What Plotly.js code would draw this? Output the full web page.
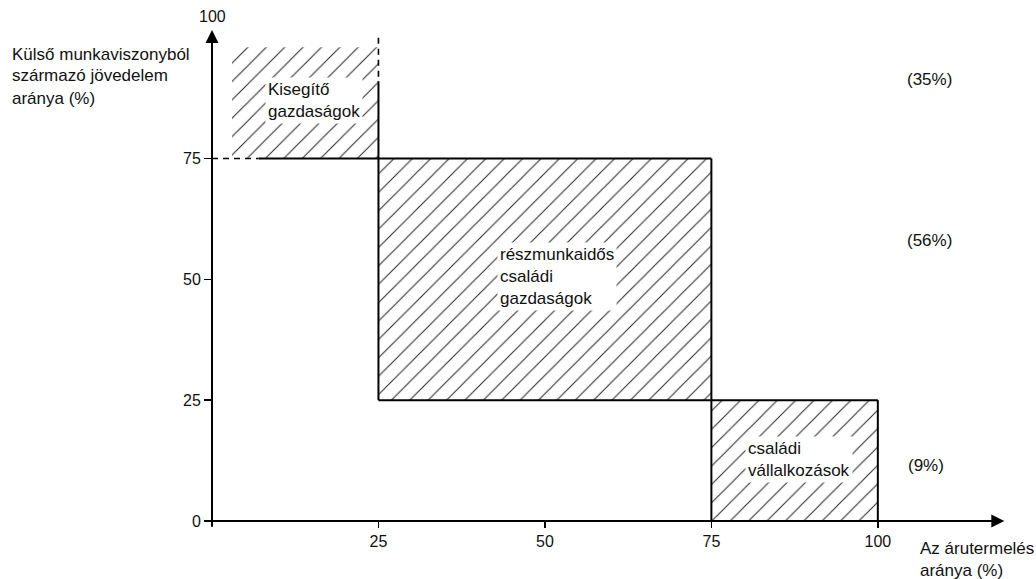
<!DOCTYPE html>
<html>
<head>
<meta charset="utf-8">
<script src="https://cdn.plot.ly/plotly-3.0.1.min.js"></script>
<style>html,body{margin:0;padding:0;background:#fff;}#chart{width:1036px;height:579px;}</style>
</head>
<body>
<div id="chart"></div>
<script>
// ---- data ----
const groups = ["Kisegítő gazdaságok", "részmunkaidős családi gazdaságok", "családi vállalkozások"];
const labelLines = [["Kisegítő", "gazdaságok"], ["részmunkaidős", "családi", "gazdaságok"], ["családi", "vállalkozások"]];
const shares = ["(35%)", "(56%)", "(9%)"];
const xStart = [3, 25, 75];      // árutermelés aránya, left edge of hatched area
const xEnd = [25, 75, 100];      // right edge
const yLow = [75, 25, 0];        // külső jövedelem aránya, lower edge
const yHigh = [98, 75, 25];      // upper edge of hatched area
const dashEndX = 7;              // dashed part of the 75 % line ends here
const dashEndY = 91;             // dashed part of the 25 % vertical ends here
const xTicks = [25, 50, 75, 100];
const yTicks = [0, 25, 50, 75];
const yTop = 100;
const yTitleLines = ["Külső munkaviszonyból", "származó jövedelem", "aránya (%)"];
const xTitleLines = ["Az árutermelés", "aránya (%)"];

const font = "Liberation Sans, Arial, Helvetica, sans-serif";
const ink = "#111";

// hatched areas
const hatch = {
  type: "bar",
  x: xStart.map((s, i) => (s + xEnd[i]) / 2),
  width: xStart.map((s, i) => xEnd[i] - s),
  base: yLow,
  y: yHigh.map((h, i) => h - yLow[i]),
  text: groups,
  hoverinfo: "text",
  textposition: "none",
  marker: {
    color: "white",
    line: {width: 0},
    pattern: {shape: "/", fgcolor: "#222", bgcolor: "white", size: 13, solidity: 0.075}
  },
  showlegend: false
};

// solid borders
const bx = [], by = [];
function seg(x0, y0, x1, y1) { bx.push(x0, x1, null); by.push(y0, y1, null); }
seg(dashEndX, yLow[0], xEnd[0], yLow[0]);
seg(xEnd[0], dashEndY, xEnd[0], yLow[0]);
seg(xStart[1], yHigh[1], xEnd[1], yHigh[1]);
seg(xEnd[1], yHigh[1], xEnd[1], yLow[1]);
seg(xEnd[1], yLow[1], xStart[1], yLow[1]);
seg(xStart[1], yLow[1], xStart[1], yHigh[1]);
seg(xStart[2], yHigh[2], xEnd[2], yHigh[2]);
seg(xEnd[2], yHigh[2], xEnd[2], yLow[2]);
seg(xStart[2], yHigh[2], xStart[2], yLow[2]);

const borders = {
  type: "scatter", mode: "lines", x: bx, y: by,
  line: {color: "#000", width: 2}, hoverinfo: "skip", showlegend: false, connectgaps: false
};

const dashes = {
  type: "scatter", mode: "lines",
  x: [0, dashEndX, null, xEnd[0], xEnd[0]],
  y: [yLow[0], yLow[0], null, yTop, dashEndY],
  line: {color: "#000", width: 1.6, dash: "6px,5px"}, hoverinfo: "skip", showlegend: false
};

const annotations = [];
// group labels
const labelPos = [[8, 87], [42.8, 50.5], [80, 12.8]];
labelLines.forEach((lines, i) => {
  annotations.push({
    x: labelPos[i][0], y: labelPos[i][1], xref: "x", yref: "y",
    text: lines.join("<br>"), showarrow: false, xanchor: "left", yanchor: "middle", align: "left",
    bgcolor: "white", borderpad: 2,
    font: {family: font, size: 17, color: ink}
  });
});
// shares
const sharePos = [[107.8, 91.3], [107.8, 58], [107.3, 11.4]];
shares.forEach((s, i) => {
  annotations.push({
    x: sharePos[i][0], y: sharePos[i][1], xref: "x", yref: "y",
    text: s, showarrow: false, xanchor: "center", yanchor: "middle",
    font: {family: font, size: 17, color: ink}
  });
});
// axis arrows
annotations.push({x: 119, y: 0, ax: -1, ay: 0, xref: "x", yref: "y", axref: "x", ayref: "y",
  text: "", showarrow: true, arrowhead: 2, arrowsize: 1.3, arrowwidth: 2, arrowcolor: "#000"});
annotations.push({x: 0, y: 101.6, ax: 0, ay: -1.5, xref: "x", yref: "y", axref: "x", ayref: "y",
  text: "", showarrow: true, arrowhead: 2, arrowsize: 1.3, arrowwidth: 2, arrowcolor: "#000"});
// top tick label
annotations.push({x: 0, y: yTop, xref: "x", yref: "y", text: String(yTop), showarrow: false,
  xanchor: "center", yanchor: "bottom", yshift: 11, font: {family: font, size: 16, color: ink}});
// axis titles (one annotation per line for spacing control)
const yTitleY = [96.6, 92.1, 87.5];
yTitleLines.forEach((t, i) => annotations.push({x: -0.253, y: yTitleY[i], xref: "paper", yref: "y",
  xanchor: "left", yanchor: "middle", text: t, showarrow: false, font: {family: font, size: 17, color: ink}}));
const xTitleYShift = [-27, -49];
xTitleLines.forEach((t, i) => annotations.push({x: 106.0, y: 0, xref: "x", yref: "y",
  xanchor: "left", yanchor: "middle", text: t, showarrow: false, yshift: xTitleYShift[i],
  font: {family: font, size: 17, color: ink}}));

const layout = {
  width: 1036, height: 579,
  margin: {l: 212, r: 25, t: 28, b: 58},
  paper_bgcolor: "white", plot_bgcolor: "white",
  barmode: "overlay",
  xaxis: {range: [0, 120], tickvals: xTicks, ticks: "outside", ticklen: 6, tickwidth: 1.5, tickcolor: "#000",
    showgrid: false, zeroline: false, showline: false, fixedrange: true,
    tickfont: {family: font, size: 16, color: ink}},
  yaxis: {range: [0, 102], tickvals: yTicks, ticks: "outside", ticklen: 7, tickwidth: 1.5, tickcolor: "#000",
    showgrid: false, zeroline: false, showline: false, fixedrange: true,
    tickfont: {family: font, size: 16, color: ink}},
  annotations: annotations,
  showlegend: false
};

Plotly.newPlot("chart", [hatch, borders, dashes], layout, {displayModeBar: false, staticPlot: true});
</script>
</body>
</html>
